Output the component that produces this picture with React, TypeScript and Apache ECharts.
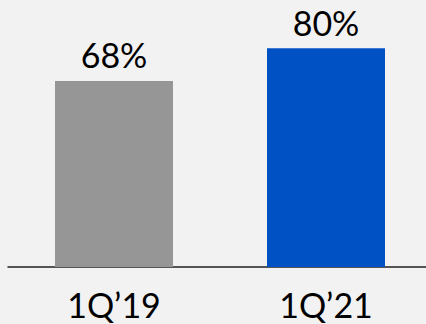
import React, { useEffect, useRef } from "react";
import * as echarts from "echarts";

const categories = ["1Q’19", "1Q’21"];
const values = [68, 80];
const barColors = ["#969696", "#0052C4"];

export default function App() {
  const ref = useRef<HTMLDivElement>(null);
  useEffect(() => {
    if (!ref.current) return;
    const chart = echarts.init(ref.current, undefined, { renderer: "svg" });
    chart.setOption({
      animation: false,
      backgroundColor: "#F2F2F2",
      grid: { left: 8, right: -6, top: 0, bottom: 57, outerBoundsMode: "none", containLabel: false },
      xAxis: {
        type: "category",
        data: categories,
        axisTick: { show: false },
        axisLine: { lineStyle: { color: "#222", width: 1.5 } },
        axisLabel: {
          color: "#000",
          fontFamily: "Lato",
          fontSize: 34,
          margin: 20,
        },
      },
      yAxis: {
        type: "value",
        min: 0,
        max: 97.6,
        show: false,
        splitLine: { show: false },
      },
      series: [
        {
          type: "bar",
          barWidth: 118,
          data: values.map((v, i) => ({ value: v, itemStyle: { color: barColors[i] } })),
          label: {
            show: true,
            position: "top",
            distance: 9,
            formatter: "{c}%",
            color: "#000",
            fontFamily: "Lato",
            fontSize: 34,
          },
        },
      ],
    });
    return () => chart.dispose();
  }, []);
  return (
    <div
      ref={ref}
      style={{ width: 426, height: 324, position: "absolute", left: 0, top: 0 }}
    />
  );
}
